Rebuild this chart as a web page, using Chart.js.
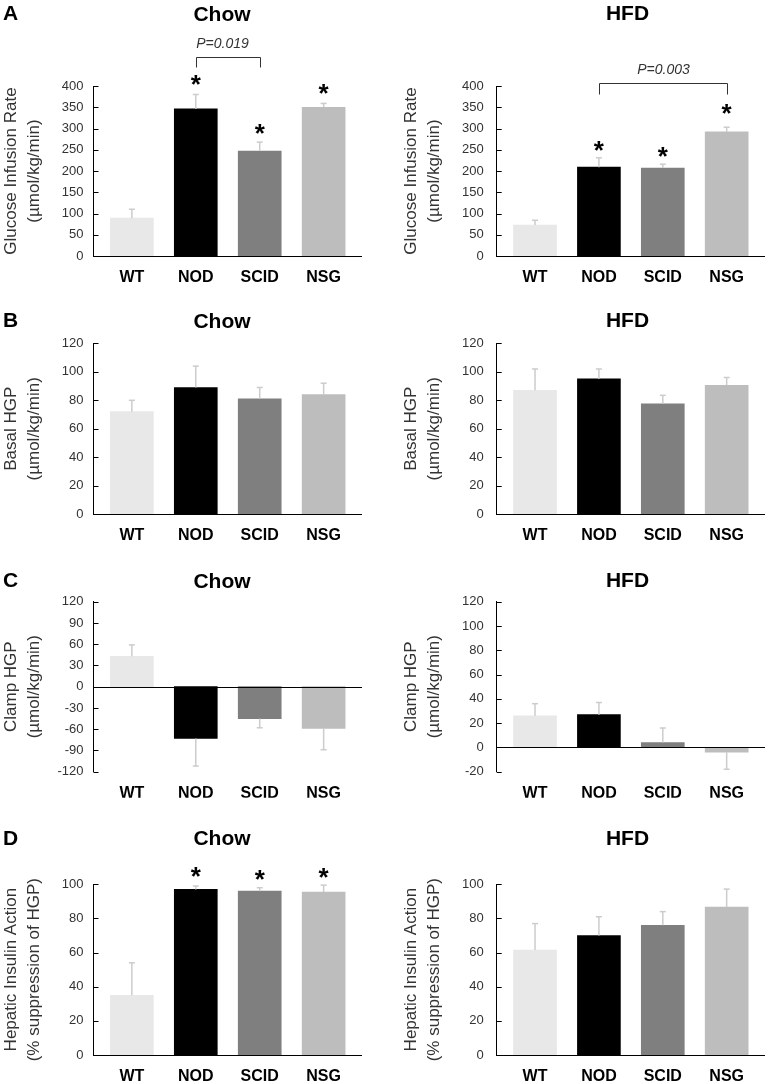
<!DOCTYPE html>
<html lang="en">
<head>
<meta charset="UTF-8">
<title>Glucose clamp - WT, NOD, SCID, NSG</title>
<script src="https://cdn.jsdelivr.net/npm/chart.js"></script>
<style>
  body { margin: 0; background: #fff; }
  #page { position: relative; width: 775px; height: 1084px; overflow: hidden; }
  #page canvas { position: absolute; }
</style>
</head>
<body>
<div id="page"></div>

<script>
const groups = ['WT', 'NOD', 'SCID', 'NSG'];
const barColors = ['#e8e8e8', '#000000', '#7f7f7f', '#bdbdbd'];

// A - glucose infusion rate (umol/kg/min)
const girRange = [0, 400, 50];
const girChow = [89, 346, 247, 350];
const girChowErr = [21, 34, 21, 9];
const girChowStars = [null, 414, 299, 393];
const girHfd = [73, 209, 207, 292];
const girHfdErr = [11, 22, 9, 11];
const girHfdStars = [null, 259, 245, 347];

// B - basal HGP
const basalRange = [0, 120, 20];
const basalChow = [72, 89, 81, 84];
const basalChowErr = [8, 15, 8, 8];
const basalHfd = [87, 95, 77.5, 90.5];
const basalHfdErr = [15, 7, 6, 5.5];

// C - clamp HGP
const clampChowRange = [-120, 120, 30];
const clampChow = [43, -73, -45, -59];
const clampChowErr = [16, 39, 13, 30];
const clampHfdRange = [-20, 120, 20];
const clampHfd = [26, 27, 4, -4];
const clampHfdErr = [10, 10, 12, 14];

// D - hepatic insulin action (% suppression of HGP)
const hepRange = [0, 100, 20];
const hepChow = [35, 97, 96, 95.5];
const hepChowErr = [19, 2, 2, 4];
const hepChowStars = [null, 107, 105.5, 106.5];
const hepHfd = [61.5, 70, 76, 86.7];
const hepHfdErr = [15.5, 11, 8, 10.5];

const FONT = '"Liberation Sans", Arial, sans-serif';
const X_AXIS_H = 26;

// page geometry of the 4x2 grid
const cols = [
  { left: 0, width: 385, axisX: 93.5, right: 362, titleX: 222, tickPad: 10, titlePad: 0 },
  { left: 385, width: 390, axisX: 111.7, right: 380, titleX: 242.5, tickPad: 13, titlePad: 15 }
];
const rows = [
  { top: 0, height: 290, areaTop: 86, areaH: 170, titleY: 13 },
  { top: 290, height: 260, areaTop: 53.3, areaH: 171, titleY: 30 },
  { top: 550, height: 260, areaTop: 51.7, areaH: 170, titleY: 30 },
  { top: 820, height: 264, areaTop: 64.3, areaH: 170.7, titleY: 17.5 }
];

const unit = '(\u00b5mol/kg/min)';
const panels = [
  { row: 0, col: 0, letter: 'A', title: 'Chow', yTitle: ['Glucose Infusion Rate', unit], values: girChow, errs: girChowErr, stars: girChowStars, range: girRange,
    bracket: { from: 1, to: 2, level: 468, drop: 10, label: 'P=0.019', shift: -6 } },
  { row: 0, col: 1, title: 'HFD', yTitle: ['Glucose Infusion Rate', unit], values: girHfd, errs: girHfdErr, stars: girHfdStars, range: girRange,
    bracket: { from: 1, to: 3, level: 406, drop: 11, label: 'P=0.003', shift: 0 } },
  { row: 1, col: 0, letter: 'B', title: 'Chow', yTitle: ['Basal HGP', unit], values: basalChow, errs: basalChowErr, range: basalRange },
  { row: 1, col: 1, title: 'HFD', yTitle: ['Basal HGP', unit], values: basalHfd, errs: basalHfdErr, range: basalRange },
  { row: 2, col: 0, letter: 'C', title: 'Chow', yTitle: ['Clamp HGP', unit], values: clampChow, errs: clampChowErr, range: clampChowRange },
  { row: 2, col: 1, title: 'HFD', yTitle: ['Clamp HGP', unit], values: clampHfd, errs: clampHfdErr, range: clampHfdRange },
  { row: 3, col: 0, letter: 'D', title: 'Chow', yTitle: ['Hepatic Insulin Action', '(% suppression of HGP)'], values: hepChow, errs: hepChowErr, stars: hepChowStars, range: hepRange },
  { row: 3, col: 1, title: 'HFD', yTitle: ['Hepatic Insulin Action', '(% suppression of HGP)'], values: hepHfd, errs: hepHfdErr, range: hepRange }
];

function line(ctx, x1, y1, x2, y2) {
  ctx.beginPath(); ctx.moveTo(x1, y1); ctx.lineTo(x2, y2); ctx.stroke();
}

// text drawn so that its ink is vertically centred on yc
function centredText(ctx, text, x, yc) {
  const m = ctx.measureText(text);
  ctx.textBaseline = 'alphabetic';
  ctx.fillText(text, x, yc + (m.actualBoundingBoxAscent - m.actualBoundingBoxDescent) / 2);
}

// zero line, inward ticks, error bars, stars, brackets and titles
const decor = {
  id: 'decor',
  afterDatasetsDraw(chart, args, o) {
    const { ctx, chartArea: a, scales: { x, y } } = chart;
    const pts = chart.data.datasets[0].data;
    ctx.save();

    ctx.strokeStyle = '#000';
    ctx.lineWidth = 1;
    const y0 = Math.round(y.getPixelForValue(0)) + 0.5;
    line(ctx, a.left, y0, a.right, y0);
    y.ticks.forEach(t => {
      const py = Math.round(y.getPixelForValue(t.value)) + 0.5;
      line(ctx, a.left, py, a.left + 5, py);
    });

    ctx.strokeStyle = '#cccccc';
    ctx.lineWidth = 1.5;
    pts.forEach((d, i) => {
      const tip = d.y >= 0 ? d.y + o.errs[i] : d.y - o.errs[i];
      const px = x.getPixelForValue(d.x);
      const py = y.getPixelForValue(tip);
      line(ctx, px, y.getPixelForValue(d.y), px, py);
      line(ctx, px - 3, py, px + 3, py);
    });

    ctx.fillStyle = '#000';
    ctx.textAlign = 'center';
    if (o.stars) {
      ctx.font = 'bold 26px ' + FONT;
      o.stars.forEach((s, i) => {
        if (s != null) centredText(ctx, '*', x.getPixelForValue(i), y.getPixelForValue(s));
      });
    }

    if (o.bracket) {
      const b = o.bracket;
      const xl = Math.round(x.getPixelForValue(b.from)) + 0.5;
      const xr = Math.round(x.getPixelForValue(b.to)) + 0.5;
      const yb = Math.round(y.getPixelForValue(b.level)) + 0.5;
      ctx.strokeStyle = '#333';
      ctx.lineWidth = 1;
      ctx.beginPath();
      ctx.moveTo(xl, yb + b.drop); ctx.lineTo(xl, yb); ctx.lineTo(xr, yb); ctx.lineTo(xr, yb + b.drop);
      ctx.stroke();
      ctx.fillStyle = '#333';
      ctx.font = 'italic 14px ' + FONT;
      centredText(ctx, b.label, (xl + xr) / 2 + b.shift, yb - 15);
    }

    ctx.fillStyle = '#000';
    ctx.font = 'bold 21px ' + FONT;
    centredText(ctx, o.title, o.titleX, o.titleY);
    if (o.letter) {
      ctx.textAlign = 'left';
      centredText(ctx, o.letter, 3, o.titleY);
    }
    ctx.restore();
  }
};

function makeChart(p) {
  const col = cols[p.col], row = rows[p.row];
  const canvas = document.createElement('canvas');
  canvas.width = col.width;
  canvas.height = row.height;
  canvas.style.left = col.left + 'px';
  canvas.style.top = row.top + 'px';
  document.getElementById('page').appendChild(canvas);

  new Chart(canvas, {
    type: 'bar',
    data: {
      datasets: [{
        data: p.values.map((v, i) => ({ x: i, y: v })),
        backgroundColor: barColors,
        barThickness: 43,
        borderWidth: 0
      }]
    },
    options: {
      responsive: false,
      animation: false,
      layout: {
        padding: {
          top: row.areaTop,
          bottom: row.height - row.areaTop - row.areaH - X_AXIS_H,
          left: 0,
          right: col.width - col.right
        }
      },
      plugins: {
        legend: { display: false },
        tooltip: { enabled: false },
        decor: { errs: p.errs, stars: p.stars, bracket: p.bracket, title: p.title, letter: p.letter, titleX: col.titleX, titleY: row.titleY }
      },
      scales: {
        x: {
          type: 'linear',
          offset: false,
          min: -0.6,
          max: 3.6,
          afterFit: s => { s.height = X_AXIS_H; },
          grid: { display: false, drawTicks: false, offset: false },
          border: { display: false },
          ticks: {
            stepSize: 1,
            includeBounds: false,
            autoSkip: false,
            maxRotation: 0,
            padding: 12,
            color: '#000',
            font: { family: FONT, size: 16, weight: 'bold' },
            callback: v => groups[v] ?? ''
          }
        },
        y: {
          min: p.range[0],
          max: p.range[1],
          afterFit: s => { s.width = col.axisX; },
          grid: { display: false, drawTicks: false },
          border: { display: true, color: '#000', width: 1 },
          ticks: { stepSize: p.range[2], padding: col.tickPad, color: '#333', font: { family: FONT, size: 13 } },
          title: {
            display: true,
            text: p.yTitle,
            color: '#333',
            font: { family: FONT, size: 17, lineHeight: 1.35 },
            padding: { top: col.titlePad, bottom: 0 }
          }
        }
      }
    },
    plugins: [decor]
  });
}

panels.forEach(makeChart);
</script>
</body>
</html>
